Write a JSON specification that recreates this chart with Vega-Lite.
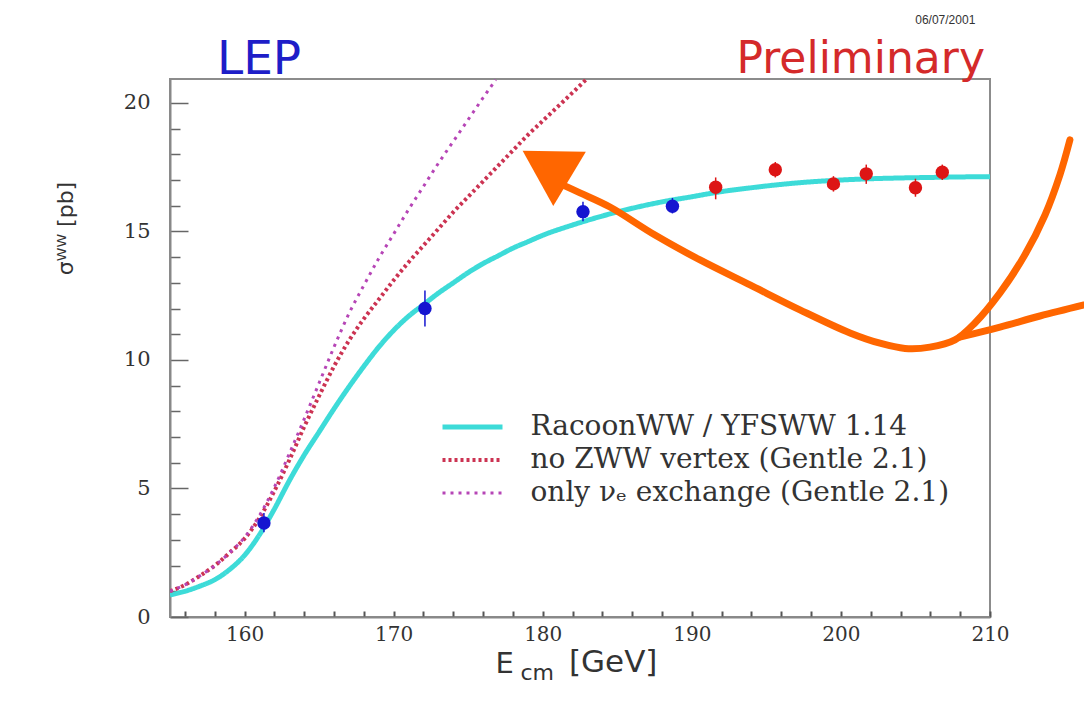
{
 "$schema": "https://vega.github.io/schema/vega-lite/v6.json",
 "width": 820, "height": 538,
 "autosize": {"type": "none"},
 "padding": {"left": 170, "top": 79, "right": 94, "bottom": 106},
 "background": "white",
 "config": {"view": {"stroke": "#8c8c8c", "strokeWidth": 2}, "axis": {"grid": false}},
 "datasets": {
  "curves": [
   {"model":"RacoonWW / YFSWW 1.14","E":155,"sigma":0.86},{"model":"RacoonWW / YFSWW 1.14","E":156,"sigma":1.0},{"model":"RacoonWW / YFSWW 1.14","E":157,"sigma":1.2},{"model":"RacoonWW / YFSWW 1.14","E":158,"sigma":1.45},{"model":"RacoonWW / YFSWW 1.14","E":159,"sigma":1.85},{"model":"RacoonWW / YFSWW 1.14","E":160,"sigma":2.4},{"model":"RacoonWW / YFSWW 1.14","E":161,"sigma":3.2},{"model":"RacoonWW / YFSWW 1.14","E":162,"sigma":4.2},{"model":"RacoonWW / YFSWW 1.14","E":163,"sigma":5.3},{"model":"RacoonWW / YFSWW 1.14","E":164,"sigma":6.3},{"model":"RacoonWW / YFSWW 1.14","E":165,"sigma":7.2},{"model":"RacoonWW / YFSWW 1.14","E":166,"sigma":8.1},{"model":"RacoonWW / YFSWW 1.14","E":167,"sigma":8.95},{"model":"RacoonWW / YFSWW 1.14","E":168,"sigma":9.75},{"model":"RacoonWW / YFSWW 1.14","E":169,"sigma":10.5},{"model":"RacoonWW / YFSWW 1.14","E":170,"sigma":11.15},{"model":"RacoonWW / YFSWW 1.14","E":171,"sigma":11.7},{"model":"RacoonWW / YFSWW 1.14","E":172,"sigma":12.15},{"model":"RacoonWW / YFSWW 1.14","E":173,"sigma":12.6},{"model":"RacoonWW / YFSWW 1.14","E":174,"sigma":13.0},{"model":"RacoonWW / YFSWW 1.14","E":175,"sigma":13.4},{"model":"RacoonWW / YFSWW 1.14","E":176,"sigma":13.75},{"model":"RacoonWW / YFSWW 1.14","E":177,"sigma":14.05},{"model":"RacoonWW / YFSWW 1.14","E":178,"sigma":14.35},{"model":"RacoonWW / YFSWW 1.14","E":179,"sigma":14.6},{"model":"RacoonWW / YFSWW 1.14","E":180,"sigma":14.85},{"model":"RacoonWW / YFSWW 1.14","E":182,"sigma":15.25},{"model":"RacoonWW / YFSWW 1.14","E":184,"sigma":15.6},{"model":"RacoonWW / YFSWW 1.14","E":186,"sigma":15.9},{"model":"RacoonWW / YFSWW 1.14","E":188,"sigma":16.15},{"model":"RacoonWW / YFSWW 1.14","E":190,"sigma":16.35},{"model":"RacoonWW / YFSWW 1.14","E":192,"sigma":16.55},{"model":"RacoonWW / YFSWW 1.14","E":194,"sigma":16.7},{"model":"RacoonWW / YFSWW 1.14","E":196,"sigma":16.83},{"model":"RacoonWW / YFSWW 1.14","E":198,"sigma":16.93},{"model":"RacoonWW / YFSWW 1.14","E":200,"sigma":17.0},{"model":"RacoonWW / YFSWW 1.14","E":202,"sigma":17.05},{"model":"RacoonWW / YFSWW 1.14","E":204,"sigma":17.08},{"model":"RacoonWW / YFSWW 1.14","E":206,"sigma":17.1},{"model":"RacoonWW / YFSWW 1.14","E":208,"sigma":17.12},{"model":"RacoonWW / YFSWW 1.14","E":210,"sigma":17.13},
   {"model":"no ZWW vertex (Gentle 2.1)","E":155,"sigma":1.0},{"model":"no ZWW vertex (Gentle 2.1)","E":156,"sigma":1.25},{"model":"no ZWW vertex (Gentle 2.1)","E":157,"sigma":1.6},{"model":"no ZWW vertex (Gentle 2.1)","E":158,"sigma":2.0},{"model":"no ZWW vertex (Gentle 2.1)","E":159,"sigma":2.5},{"model":"no ZWW vertex (Gentle 2.1)","E":160,"sigma":3.05},{"model":"no ZWW vertex (Gentle 2.1)","E":161,"sigma":3.85},{"model":"no ZWW vertex (Gentle 2.1)","E":162,"sigma":4.9},{"model":"no ZWW vertex (Gentle 2.1)","E":163,"sigma":6.1},{"model":"no ZWW vertex (Gentle 2.1)","E":164,"sigma":7.4},{"model":"no ZWW vertex (Gentle 2.1)","E":165,"sigma":8.6},{"model":"no ZWW vertex (Gentle 2.1)","E":166,"sigma":9.75},{"model":"no ZWW vertex (Gentle 2.1)","E":167,"sigma":10.75},{"model":"no ZWW vertex (Gentle 2.1)","E":168,"sigma":11.6},{"model":"no ZWW vertex (Gentle 2.1)","E":169,"sigma":12.35},{"model":"no ZWW vertex (Gentle 2.1)","E":170,"sigma":13.1},{"model":"no ZWW vertex (Gentle 2.1)","E":171,"sigma":13.8},{"model":"no ZWW vertex (Gentle 2.1)","E":172,"sigma":14.45},{"model":"no ZWW vertex (Gentle 2.1)","E":173,"sigma":15.1},{"model":"no ZWW vertex (Gentle 2.1)","E":174,"sigma":15.75},{"model":"no ZWW vertex (Gentle 2.1)","E":175,"sigma":16.35},{"model":"no ZWW vertex (Gentle 2.1)","E":176,"sigma":16.95},{"model":"no ZWW vertex (Gentle 2.1)","E":177,"sigma":17.55},{"model":"no ZWW vertex (Gentle 2.1)","E":178,"sigma":18.15},{"model":"no ZWW vertex (Gentle 2.1)","E":179,"sigma":18.75},{"model":"no ZWW vertex (Gentle 2.1)","E":180,"sigma":19.3},{"model":"no ZWW vertex (Gentle 2.1)","E":181,"sigma":19.85},{"model":"no ZWW vertex (Gentle 2.1)","E":182,"sigma":20.4},{"model":"no ZWW vertex (Gentle 2.1)","E":182.9,"sigma":20.9},
   {"model":"only νₑ exchange (Gentle 2.1)","E":155,"sigma":1.0},{"model":"only νₑ exchange (Gentle 2.1)","E":156,"sigma":1.25},{"model":"only νₑ exchange (Gentle 2.1)","E":157,"sigma":1.6},{"model":"only νₑ exchange (Gentle 2.1)","E":158,"sigma":2.0},{"model":"only νₑ exchange (Gentle 2.1)","E":159,"sigma":2.5},{"model":"only νₑ exchange (Gentle 2.1)","E":160,"sigma":3.1},{"model":"only νₑ exchange (Gentle 2.1)","E":161,"sigma":3.95},{"model":"only νₑ exchange (Gentle 2.1)","E":162,"sigma":5.05},{"model":"only νₑ exchange (Gentle 2.1)","E":163,"sigma":6.35},{"model":"only νₑ exchange (Gentle 2.1)","E":164,"sigma":7.7},{"model":"only νₑ exchange (Gentle 2.1)","E":165,"sigma":9.1},{"model":"only νₑ exchange (Gentle 2.1)","E":166,"sigma":10.5},{"model":"only νₑ exchange (Gentle 2.1)","E":167,"sigma":11.8},{"model":"only νₑ exchange (Gentle 2.1)","E":168,"sigma":12.9},{"model":"only νₑ exchange (Gentle 2.1)","E":169,"sigma":13.95},{"model":"only νₑ exchange (Gentle 2.1)","E":170,"sigma":14.9},{"model":"only νₑ exchange (Gentle 2.1)","E":171,"sigma":15.85},{"model":"only νₑ exchange (Gentle 2.1)","E":172,"sigma":16.75},{"model":"only νₑ exchange (Gentle 2.1)","E":173,"sigma":17.65},{"model":"only νₑ exchange (Gentle 2.1)","E":174,"sigma":18.5},{"model":"only νₑ exchange (Gentle 2.1)","E":175,"sigma":19.35},{"model":"only νₑ exchange (Gentle 2.1)","E":176,"sigma":20.2},{"model":"only νₑ exchange (Gentle 2.1)","E":176.85,"sigma":20.9}
  ],
  "points": [
   {"E":161.3,"sigma":3.66,"lo":3.3,"hi":4.05,"status":"final"},
   {"E":172.1,"sigma":12.0,"lo":11.3,"hi":12.7,"status":"final"},
   {"E":182.7,"sigma":15.77,"lo":15.4,"hi":16.15,"status":"final"},
   {"E":188.7,"sigma":15.98,"lo":15.7,"hi":16.3,"status":"final"},
   {"E":191.6,"sigma":16.72,"lo":16.25,"hi":17.1,"status":"preliminary"},
   {"E":195.6,"sigma":17.4,"lo":17.1,"hi":17.7,"status":"preliminary"},
   {"E":199.5,"sigma":16.85,"lo":16.55,"hi":17.15,"status":"preliminary"},
   {"E":201.7,"sigma":17.24,"lo":16.85,"hi":17.6,"status":"preliminary"},
   {"E":205.0,"sigma":16.7,"lo":16.35,"hi":17.05,"status":"preliminary"},
   {"E":206.8,"sigma":17.3,"lo":17.0,"hi":17.6,"status":"preliminary"}
  ],
  "arrow": [
   {"seg":"a","ord":1,"E":181.0,"sigma":16.9},{"seg":"a","ord":2,"E":182.5,"sigma":16.5},{"seg":"a","ord":3,"E":184.51,"sigma":15.95},{"seg":"a","ord":4,"E":187.53,"sigma":14.86},{"seg":"a","ord":5,"E":190.55,"sigma":13.89},{"seg":"a","ord":6,"E":193.9,"sigma":12.92},{"seg":"a","ord":7,"E":197.25,"sigma":11.95},{"seg":"a","ord":8,"E":200.61,"sigma":11.05},{"seg":"a","ord":9,"E":202.62,"sigma":10.65},{"seg":"a","ord":10,"E":204.3,"sigma":10.45},{"seg":"a","ord":11,"E":205.97,"sigma":10.5},{"seg":"a","ord":12,"E":207.65,"sigma":10.78},{"seg":"a","ord":13,"E":208.99,"sigma":11.44},{"seg":"a","ord":14,"E":210.67,"sigma":12.61},{"seg":"a","ord":15,"E":212.34,"sigma":14.09},{"seg":"a","ord":16,"E":213.69,"sigma":15.64},{"seg":"a","ord":17,"E":214.69,"sigma":17.2},{"seg":"a","ord":18,"E":215.36,"sigma":18.56},
   {"seg":"b","ord":1,"E":207.98,"sigma":10.89},{"seg":"b","ord":2,"E":210.67,"sigma":11.28},{"seg":"b","ord":3,"E":213.35,"sigma":11.71},{"seg":"b","ord":4,"E":216.3,"sigma":12.14}
  ]
 },
 "resolve": {"axis": {"x": "independent", "y": "independent"}},
 "layer": [
  {
   "data": {"name": "curves"},
   "mark": {"type": "line", "interpolate": "monotone", "clip": true},
   "encoding": {
    "x": {"field": "E", "type": "quantitative", "scale": {"domain": [155, 210], "nice": false, "zero": false},
     "axis": {"orient": "bottom", "values": [156,158,160,162,164,166,168,170,172,174,176,178,180,182,184,186,188,190,192,194,196,198,200,202,204,206,208,210],
      "labelExpr": "datum.value % 10 === 0 ? datum.label : ''",
      "tickSize": -6, "ticks": true,
      "tickColor": "#555", "tickWidth": 2, "domainColor": "#888", "domainWidth": 2,
      "labelFont": "DejaVu Serif", "labelFontSize": 20, "labelColor": "#333", "labelPadding": 13, "labelFlush": false, "labelOverlap": false, "labelBaseline": "top",
      "title": "E", "titleFont": "DejaVu Sans", "titleFontSize": 29, "titleFontWeight": "normal", "titleColor": "#333",
      "titleX": 325, "titleY": 55, "titleAlign": "left", "titleBaseline": "alphabetic", "grid": false}},
    "y": {"field": "sigma", "type": "quantitative", "scale": {"domain": [0, 20.93], "nice": false},
     "axis": {"values": [0,1,2,3,4,5,6,7,8,9,10,11,12,13,14,15,16,17,18,19,20],
      "labelExpr": "datum.value % 5 === 0 ? datum.label : ''",
      "tickSize": {"condition": {"test": "datum.value % 5 === 0", "value": -18}, "value": -10},
      "tickColor": "#666", "tickWidth": 1.5, "domainColor": "#888", "domainWidth": 2,
      "labelFont": "DejaVu Serif", "labelFontSize": 21, "labelColor": "#333", "labelPadding": 38, "labelFlush": false, "labelOverlap": false,
      "title": "σᵂᵂ [pb]", "titleFont": "DejaVu Sans", "titleFontSize": 22, "titleFontWeight": "normal", "titleColor": "#333",
      "titleX": -93, "titleY": 149, "titleAlign": "center", "titleBaseline": "bottom", "titleAngle": 270, "grid": false}},
    "color": {"field": "model", "type": "nominal",
     "scale": {"domain": ["RacoonWW / YFSWW 1.14", "no ZWW vertex (Gentle 2.1)", "only νₑ exchange (Gentle 2.1)"], "range": ["#3ddbd8", "#cc3352", "#b645b6"]},
     "legend": {"title": null, "orient": "none", "legendX": 288.5, "legendY": 334, "symbolType": "M-4,0H4", "symbolSize": 225, "symbolStrokeWidth": 2.5,
      "labelFont": "DejaVu Serif", "labelFontSize": 28, "labelColor": "#333", "labelOffset": 44, "rowPadding": 5, "padding": 0, "labelLimit": 600}},
    "strokeDash": {"field": "model", "type": "nominal",
     "scale": {"domain": ["RacoonWW / YFSWW 1.14", "no ZWW vertex (Gentle 2.1)", "only νₑ exchange (Gentle 2.1)"], "range": [[1, 0], [3, 3], [3, 5]]},
     "legend": {"title": null, "orient": "none", "legendX": 288.5, "legendY": 334, "symbolType": "M-4,0H4", "symbolSize": 225, "symbolStrokeWidth": 2.5,
      "labelFont": "DejaVu Serif", "labelFontSize": 28, "labelColor": "#333", "labelOffset": 44, "rowPadding": 5, "padding": 0, "labelLimit": 600}},
    "strokeWidth": {"field": "model", "type": "ordinal",
     "scale": {"domain": ["RacoonWW / YFSWW 1.14", "no ZWW vertex (Gentle 2.1)", "only νₑ exchange (Gentle 2.1)"], "range": [5, 3, 3]}, "legend": null}
   }
  },
  {
   "data": {"name": "points"},
   "mark": {"type": "rule", "strokeWidth": 1.5},
   "encoding": {
    "x": {"field": "E", "type": "quantitative",
     "axis": {"orient": "top", "title": "cm", "labels": false, "ticks": false, "domain": false, "grid": false,
      "titleFont": "DejaVu Sans", "titleFontSize": 22, "titleFontWeight": "normal", "titleColor": "#333",
      "titleX": 350, "titleY": 600, "titleAlign": "left", "titleBaseline": "alphabetic", "titleAngle": 0}},
    "y": {"field": "lo", "type": "quantitative", "axis": null},
    "y2": {"field": "hi"},
    "stroke": {"field": "status", "type": "nominal", "scale": {"domain": ["final", "preliminary"], "range": ["#1515d0", "#dd1515"]}, "legend": null}
   }
  },
  {
   "data": {"name": "points"},
   "mark": {"type": "point", "shape": "circle", "filled": true, "size": 180, "opacity": 1, "strokeWidth": 0},
   "encoding": {
    "x": {"field": "E", "type": "quantitative", "axis": null},
    "y": {"field": "sigma", "type": "quantitative", "axis": null},
    "fill": {"field": "status", "type": "nominal", "scale": {"domain": ["final", "preliminary"], "range": ["#1515d0", "#dd1515"]}, "legend": null}
   }
  },
  {
   "data": {"name": "arrow"},
   "mark": {"type": "line", "interpolate": "catmull-rom", "color": "#ff6600", "strokeWidth": 7, "strokeCap": "round", "strokeJoin": "round", "clip": false},
   "encoding": {
    "x": {"field": "E", "type": "quantitative", "axis": null},
    "y": {"field": "sigma", "type": "quantitative", "axis": null},
    "detail": {"field": "seg", "type": "nominal"},
    "order": {"field": "ord", "type": "quantitative"}
   }
  },
  {
   "data": {"values": [{}]},
   "mark": {"type": "point", "shape": "triangle", "filled": true, "size": 4000, "angle": 301, "color": "#ff6600", "opacity": 1, "clip": false},
   "encoding": {"x": {"datum": 180.75, "type": "quantitative", "axis": null}, "y": {"datum": 17.41, "type": "quantitative", "axis": null}}
  },
  {
   "data": {"values": [{}]},
   "mark": {"type": "text", "text": "[GeV]", "align": "left", "baseline": "alphabetic", "font": "DejaVu Sans", "fontSize": 31, "color": "#333", "clip": false},
   "encoding": {"x": {"datum": 181.76, "type": "quantitative", "axis": null}, "y": {"datum": -2.14, "type": "quantitative", "axis": null}}
  },
  {
   "data": {"values": [{}]},
   "mark": {"type": "text", "text": "LEP", "align": "left", "baseline": "alphabetic", "font": "DejaVu Sans", "fontSize": 47, "color": "#1e1ec8", "clip": false},
   "encoding": {"x": {"datum": 158.15, "type": "quantitative", "axis": null}, "y": {"datum": 21.13, "type": "quantitative", "axis": null}}
  },
  {
   "data": {"values": [{}]},
   "mark": {"type": "text", "text": "Preliminary", "align": "right", "baseline": "alphabetic", "font": "DejaVu Sans", "fontSize": 44, "color": "#d42a2a", "clip": false},
   "encoding": {"x": {"datum": 209.66, "type": "quantitative", "axis": null}, "y": {"datum": 21.17, "type": "quantitative", "axis": null}}
  },
  {
   "data": {"values": [{}]},
   "mark": {"type": "text", "text": "06/07/2001", "align": "center", "baseline": "alphabetic", "font": "Liberation Sans", "fontSize": 12, "color": "#333", "clip": false},
   "encoding": {"x": {"datum": 207.0, "type": "quantitative", "axis": null}, "y": {"datum": 23.07, "type": "quantitative", "axis": null}}
  }
 ]
}
